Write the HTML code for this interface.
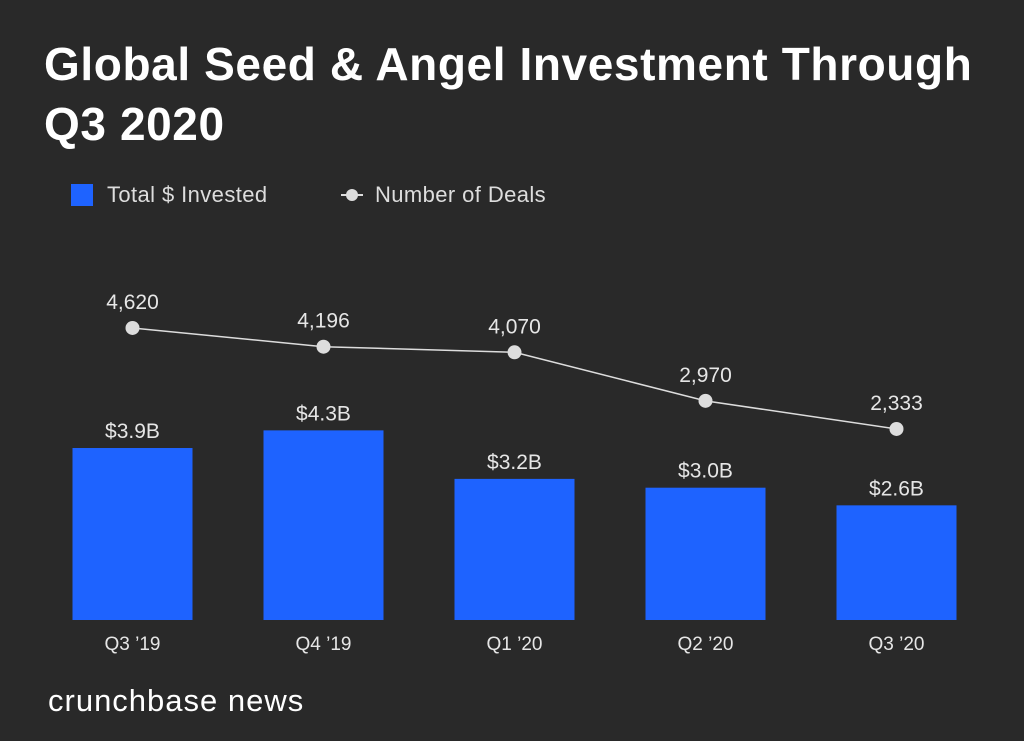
<!DOCTYPE html>
<html><head><meta charset="utf-8"><style>
body{margin:0;background:#292929;font-family:"Liberation Sans",sans-serif;}
#wrap{position:relative;width:1024px;height:741px;overflow:hidden;background:#292929;}
h1{position:absolute;left:44px;top:34px;margin:0;color:#fff;font-size:46px;line-height:60px;font-weight:bold;letter-spacing:0.6px;}
.leg{position:absolute;top:182px;color:#ddd;font-size:22px;letter-spacing:0.4px;}
#brand{position:absolute;left:48px;top:683px;color:#fff;font-size:31px;letter-spacing:1px;}
svg{position:absolute;left:0;top:0;}
</style></head><body>
<div id="wrap">
<h1>Global Seed &amp; Angel Investment Through<br>Q3 2020</h1>
<div class="leg" style="left:71px"><span style="display:inline-block;width:22px;height:22px;background:#1e63ff;vertical-align:-4px;margin-right:14px"></span>Total $ Invested</div>
<div class="leg" style="left:341px"><svg width="22" height="22" style="position:relative;vertical-align:-4px;margin-right:12px"><line x1="0" y1="11" x2="22" y2="11" stroke="#ddd" stroke-width="2"/><circle cx="11" cy="11" r="6" fill="#ddd"/></svg>Number of Deals</div>
<svg id="plot" width="1024" height="741"></svg>
<div id="brand">crunchbase news</div>
</div>
<script>
const categories=["Q3 \u201919","Q4 \u201919","Q1 \u201920","Q2 \u201920","Q3 \u201920"];
const invested=[3.9,4.3,3.2,3.0,2.6];
const investedLabels=["$3.9B","$4.3B","$3.2B","$3.0B","$2.6B"];
const deals=[4620,4196,4070,2970,2333];
const dealLabels=["4,620","4,196","4,070","2,970","2,333"];
const NS="http://www.w3.org/2000/svg";
const svg=document.getElementById('plot');
const xC=i=>132.5+i*191;
const yBar=v=>620-v*44.1;
const yDeal=v=>532-v*0.04416;
function mk(t,a,txt){const e=document.createElementNS(NS,t);for(const k in a)e.setAttribute(k,a[k]);if(txt)e.textContent=txt;svg.appendChild(e);return e;}
categories.forEach((c,i)=>{
  const b=mk('rect',{x:xC(i)-60,y:yBar(invested[i]),width:120,height:620-yBar(invested[i]),fill:'#1e63ff'});
  
  
  const l=mk('text',{x:xC(i),y:yBar(invested[i])-10,'text-anchor':'middle',fill:'#e6e6e6','font-size':21,'font-family':'Liberation Sans'},investedLabels[i]);
  
  
  const x=mk('text',{x:xC(i),y:650,'text-anchor':'middle',fill:'#e6e6e6','font-size':19,'font-family':'Liberation Sans'},c);
  
  
});
const pts=deals.map((d,i)=>xC(i)+','+yDeal(d)).join(' ');
const pl=mk('polyline',{points:pts,fill:'none',stroke:'#ddd','stroke-width':1.5});


deals.forEach((d,i)=>{
  const p=mk('circle',{cx:xC(i),cy:yDeal(d),r:7,fill:'#ddd'});
  
  
  const t=mk('text',{x:xC(i),y:yDeal(d)-19,'text-anchor':'middle',fill:'#e6e6e6','font-size':21,'font-family':'Liberation Sans'},dealLabels[i]);
  
  
});
</script>
</body></html>
